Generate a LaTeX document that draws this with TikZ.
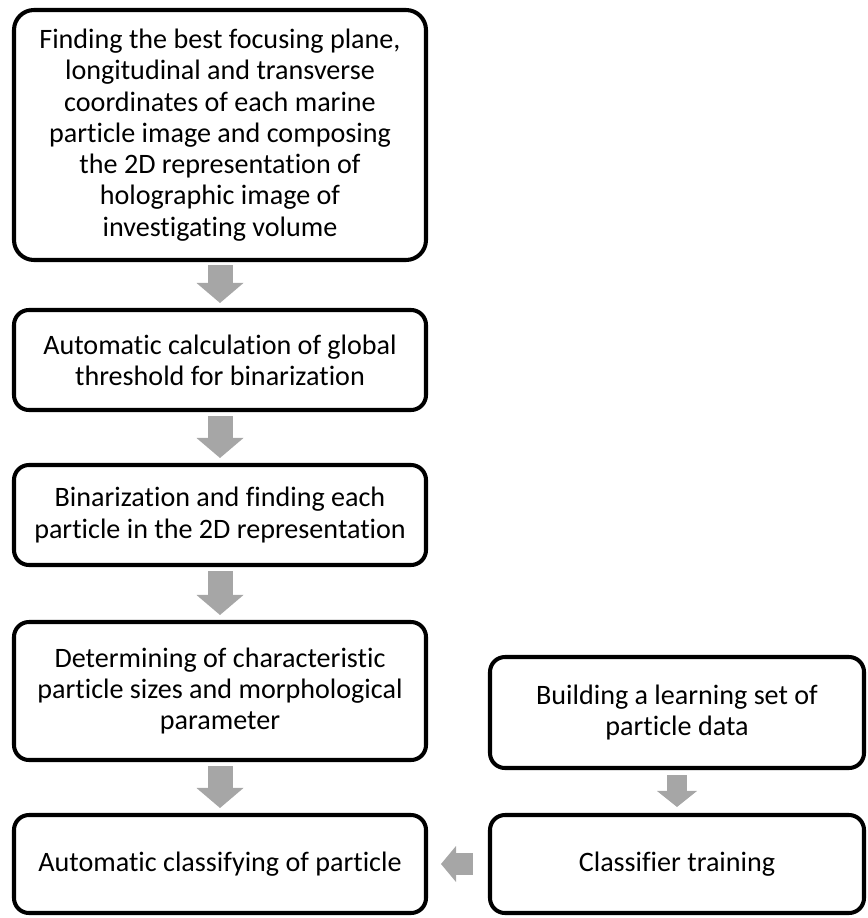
\documentclass[tikz,border=0pt]{standalone}
\usepackage{fontspec}
\setmainfont{Carlito}[Ligatures=NoCommon]
\usetikzlibrary{
    arrows.meta
}
\definecolor{arrowgray}{RGB}{166, 166, 166}

\begin{document}
\begin{tikzpicture}[
    box/.style={rectangle, draw=black, line width=2.3pt, rounded corners=#1,
                align=center, inner sep=0pt, font=\fontsize{16}{17.8}\selectfont},
    box/.default=0.3cm,
    blockarrow/.style={draw=arrowgray, line width=#1},
    downarrow/.style={blockarrow=0.5cm, -{Triangle[length=0.4cm, width=0.94cm, line width=0pt]}},
    smallarrow/.style={blockarrow=0.4cm, -{Triangle[length=0.32cm, width=0.8cm, line width=0pt]}},
    sidearrow/.style={blockarrow=0.44cm, -{Triangle[length=0.3cm, width=0.72cm, line width=0pt]}}
]

\useasboundingbox (0, 0) rectangle (17.34, -18.36);

% ============================================
% MAIN PROCESSING CHAIN
% ============================================
\node[box=0.4cm, minimum width=8.24cm, minimum height=5.0cm] (find) at (4.4, -2.7) {
    Finding the best focusing plane,\\
    longitudinal and transverse\\
    coordinates of each marine\\
    particle image and composing\\
    the 2D representation of\\
    holographic image of\\
    investigating volume
};

\node[box, minimum width=8.24cm, minimum height=2.0cm] (thresh) at (4.4, -7.2)
    {Automatic calculation of global\\threshold for binarization};

\node[box, minimum width=8.24cm, minimum height=2.0cm] (binar) at (4.4, -10.3)
    {Binarization and finding each\\particle in the 2D representation};

\node[box, minimum width=8.24cm, minimum height=2.76cm] (sizes) at (4.4, -13.82)
    {Determining of characteristic\\particle sizes and morphological\\parameter};

\node[box, minimum width=8.24cm, minimum height=1.96cm] (classify) at (4.4, -17.28)
    {Automatic classifying of particle};

% ============================================
% TRAINING BRANCH
% ============================================
\node[box, minimum width=7.48cm, minimum height=2.22cm] (learnset) at (13.54, -14.25)
    {Building a learning set of\\particle data};

\node[box, minimum width=7.48cm, minimum height=1.96cm] (training) at (13.54, -17.28)
    {Classifier training};

% Block arrows between the steps
\draw[downarrow, shorten <=0.06cm, shorten >=0.1cm] (find) -- (thresh);
\draw[downarrow, shorten <=0.08cm, shorten >=0.1cm] (thresh) -- (binar);
\draw[downarrow, shorten <=0.08cm, shorten >=0.1cm] (binar) -- (sizes);
\draw[downarrow, shorten <=0.08cm, shorten >=0.1cm] (sizes) -- (classify);
\draw[smallarrow, shorten <=0.1cm, shorten >=0.12cm] (learnset) -- (training);
\draw[sidearrow, shorten <=0.3cm, shorten >=0.26cm] (training) -- (classify);

\end{tikzpicture}
\end{document}
